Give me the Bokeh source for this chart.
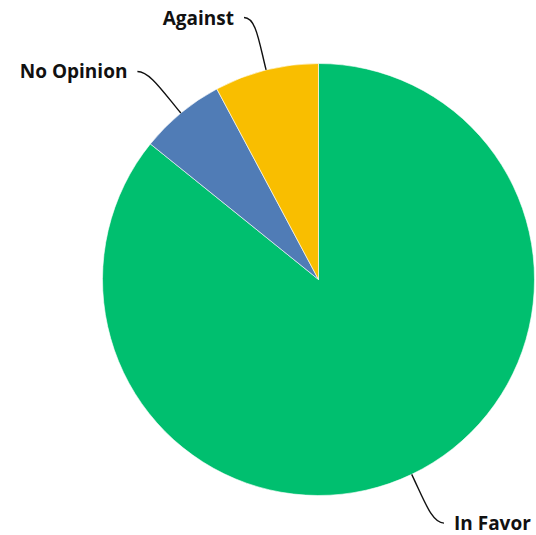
import math
from bokeh.plotting import figure
from bokeh.models import Range1d
from bokeh.core.properties import value
from bokeh.embed import file_html
from bokeh.resources import INLINE

categories = ["In Favor", "No Opinion", "Against"]
values = [85.8, 6.4, 7.8]
colors = ["#00BF6F", "#507CB6", "#F9BE00"]

W, H = 536, 535
cx, cy = 318, 256
R = 216
R_LABEL = 270

total = sum(values)
starts, ends, mids = [], [], []
cum = 0.0
for v in values:
    a0 = math.pi / 2 - 2 * math.pi * cum / total
    cum += v
    a1 = math.pi / 2 - 2 * math.pi * cum / total
    starts.append(a0)
    ends.append(a1)
    mids.append((a0 + a1) / 2)

p = figure(width=W, height=H, x_range=Range1d(0, W), y_range=Range1d(0, H),
           output_backend="svg", toolbar_location=None, min_border=0)
p.axis.visible = False
p.grid.visible = False
p.outline_line_color = None

p.wedge(x=cx, y=cy, radius=R, start_angle=starts, end_angle=ends,
        direction="clock", fill_color=colors, line_color="white", line_width=0.6)

x0s, y0s, x1s, y1s, c0x, c0y, c1x, c1y = [], [], [], [], [], [], [], []
lab = {"left": ([], [], []), "right": ([], [], [])}
for cat, m in zip(categories, mids):
    sgn = 1 if math.cos(m) >= 0 else -1
    ex, ey = cx + R * math.cos(m), cy + R * math.sin(m)
    lx, ly = cx + R_LABEL * math.cos(m) + sgn * 9, cy + R_LABEL * math.sin(m)
    x0s.append(ex); y0s.append(ey); x1s.append(lx); y1s.append(ly)
    c0x.append(ex + 30 * math.cos(m)); c0y.append(ey + 30 * math.sin(m))
    c1x.append(lx - sgn * 12); c1y.append(ly)
    side = "left" if sgn > 0 else "right"
    lab[side][0].append(lx + sgn * 10)
    lab[side][1].append(ly)
    lab[side][2].append(cat)

p.bezier(x0=x0s, y0=y0s, x1=x1s, y1=y1s, cx0=c0x, cy0=c0y, cx1=c1x, cy1=c1y,
         line_color="#111111", line_width=1.4)

for align, (xs, ys, ts) in lab.items():
    if xs:
        p.text(x=xs, y=ys, text=ts, text_font=value("Open Sans"), text_font_style="bold",
               text_font_size="19px", text_align=align, text_baseline="middle",
               text_color="#111111")

open("out.html", "w").write(file_html(p, INLINE))
